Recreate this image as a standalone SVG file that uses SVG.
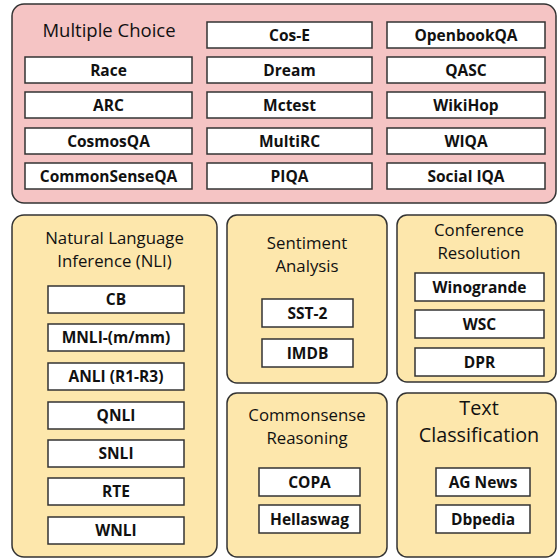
<svg xmlns="http://www.w3.org/2000/svg" width="559" height="558" viewBox="0 0 559 558">
<style>
.pk{fill:#f5c4c4;stroke:#333;stroke-width:1.5}
.yl{fill:#fde7ac;stroke:#333;stroke-width:1.5}
.bx{fill:#fff;stroke:#333;stroke-width:1.5}
.t{font-family:"Open Sans","Noto Sans",sans-serif;font-size:16.8px;fill:#111;text-anchor:middle}
.b{font-family:"Open Sans","Noto Sans",sans-serif;font-size:15.5px;font-weight:bold;fill:#111;text-anchor:middle}
</style>
<rect width="559" height="558" fill="#fff"/>
<g id="multiple-choice">
<rect class="pk" x="12" y="4" width="544" height="199" rx="12"/>
<text class="t" x="109" y="37" style="font-size:18.5px">Multiple Choice</text>
<rect class="bx" x="25" y="57" width="167" height="26"/><text class="b" x="108.5" y="75.5">Race</text>
<rect class="bx" x="25" y="92" width="167" height="26"/><text class="b" x="108.5" y="110.5">ARC</text>
<rect class="bx" x="25" y="128" width="167" height="26"/><text class="b" x="108.5" y="146.5">CosmosQA</text>
<rect class="bx" x="25" y="163" width="167" height="26"/><text class="b" x="108.5" y="181.5">CommonSenseQA</text>
<rect class="bx" x="207" y="22" width="165" height="26"/><text class="b" x="289.5" y="40.5">Cos-E</text>
<rect class="bx" x="207" y="57" width="165" height="26"/><text class="b" x="289.5" y="75.5">Dream</text>
<rect class="bx" x="207" y="92" width="165" height="26"/><text class="b" x="289.5" y="110.5">Mctest</text>
<rect class="bx" x="207" y="128" width="165" height="26"/><text class="b" x="289.5" y="146.5">MultiRC</text>
<rect class="bx" x="207" y="163" width="165" height="26"/><text class="b" x="289.5" y="181.5">PIQA</text>
<rect class="bx" x="387" y="22" width="158" height="26"/><text class="b" x="466" y="40.5">OpenbookQA</text>
<rect class="bx" x="387" y="57" width="158" height="26"/><text class="b" x="466" y="75.5">QASC</text>
<rect class="bx" x="387" y="92" width="158" height="26"/><text class="b" x="466" y="110.5">WikiHop</text>
<rect class="bx" x="387" y="128" width="158" height="26"/><text class="b" x="466" y="146.5">WIQA</text>
<rect class="bx" x="387" y="163" width="158" height="26"/><text class="b" x="466" y="181.5">Social IQA</text>
</g>
<g id="nli">
<rect class="yl" x="12" y="215" width="205" height="342" rx="12"/>
<text class="t" x="114.5" y="244">Natural Language</text>
<text class="t" x="114.5" y="267">Inference (NLI)</text>
<rect class="bx" x="48" y="286" width="136" height="27"/><text class="b" x="116" y="305">CB</text>
<rect class="bx" x="48" y="324" width="136" height="27"/><text class="b" x="116" y="343">MNLI-(m/mm)</text>
<rect class="bx" x="48" y="363" width="136" height="27"/><text class="b" x="116" y="382">ANLI (R1-R3)</text>
<rect class="bx" x="48" y="402" width="136" height="27"/><text class="b" x="116" y="421">QNLI</text>
<rect class="bx" x="48" y="440" width="136" height="27"/><text class="b" x="116" y="459">SNLI</text>
<rect class="bx" x="48" y="478" width="136" height="27"/><text class="b" x="116" y="497">RTE</text>
<rect class="bx" x="48" y="517" width="136" height="27"/><text class="b" x="116" y="536">WNLI</text>
</g>
<g id="sentiment">
<rect class="yl" x="227" y="215" width="160" height="168" rx="10"/>
<text class="t" x="307" y="249">Sentiment</text>
<text class="t" x="307" y="272">Analysis</text>
<rect class="bx" x="262" y="299" width="91" height="28"/><text class="b" x="307.5" y="318.5">SST-2</text>
<rect class="bx" x="262" y="339" width="91" height="28"/><text class="b" x="307.5" y="358.5">IMDB</text>
</g>
<g id="coreference">
<rect class="yl" x="397" y="215" width="159" height="167" rx="10"/>
<text class="t" x="479" y="236">Conference</text>
<text class="t" x="479" y="259">Resolution</text>
<rect class="bx" x="415" y="273" width="129" height="28"/><text class="b" x="479.5" y="292.5">Winogrande</text>
<rect class="bx" x="415" y="310" width="129" height="28"/><text class="b" x="479.5" y="329.5">WSC</text>
<rect class="bx" x="415" y="348" width="129" height="28"/><text class="b" x="479.5" y="367.5">DPR</text>
</g>
<g id="commonsense">
<rect class="yl" x="227" y="393" width="160" height="164" rx="10"/>
<text class="t" x="307" y="421">Commonsense</text>
<text class="t" x="307" y="444">Reasoning</text>
<rect class="bx" x="259" y="468" width="101" height="28"/><text class="b" x="309.5" y="487.5">COPA</text>
<rect class="bx" x="259" y="505" width="101" height="28"/><text class="b" x="309.5" y="524.5">Hellaswag</text>
</g>
<g id="text-classification">
<rect class="yl" x="397" y="393" width="159" height="164" rx="10"/>
<text class="t" x="479" y="415" style="font-size:19.8px">Text</text>
<text class="t" x="479" y="442" style="font-size:19.8px">Classification</text>
<rect class="bx" x="436" y="468" width="94" height="28"/><text class="b" x="483" y="487.5">AG News</text>
<rect class="bx" x="436" y="505" width="94" height="28"/><text class="b" x="483" y="524.5">Dbpedia</text>
</g>
<g id="connectors"></g>
</svg>
